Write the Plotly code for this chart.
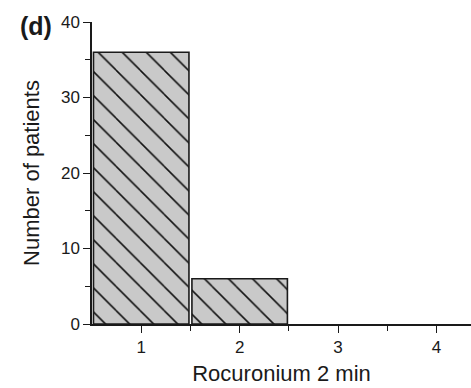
import plotly.graph_objects as go

categories = [1, 2, 3, 4]
counts = [36, 6, 0, 0]
x_ticks = [1, 2, 3, 4]
y_ticks = [0, 10, 20, 30, 40]

FONT = "Liberation Sans, Arial"
INK = "#1a1a1a"

fig = go.Figure()
fig.add_trace(go.Bar(
    x=categories, y=counts, width=0.97,
    marker=dict(color="#c9c9c9",
                line=dict(color=INK, width=[1.6 if c > 0 else 0 for c in counts]),
                pattern=dict(shape="\\", size=17, solidity=0.09, fgcolor="#111111", fgopacity=1, bgcolor="#c9c9c9")),
))

axis_common = dict(showline=True, linecolor=INK, linewidth=1.5, ticks="outside",
                   ticklen=7, tickwidth=1.3, tickcolor=INK, showgrid=False, zeroline=False,
                   tickfont=dict(family=FONT, size=17, color=INK))

fig.update_layout(
    width=471, height=388,
    margin=dict(l=92, r=0, t=22, b=64),
    plot_bgcolor="white", paper_bgcolor="white",
    showlegend=False,
    xaxis=dict(range=[0.5, 4.35], tickvals=x_ticks,
               minor=dict(tickvals=[1.5, 2.5, 3.5], ticklen=5, ticks="outside", tickcolor=INK, tickwidth=1.3),
               title=dict(text="Rocuronium 2 min", font=dict(family=FONT, size=22, color=INK), standoff=9),
               **axis_common),
    yaxis=dict(range=[0, 40], tickvals=y_ticks,
               minor=dict(tickvals=[5, 15, 25, 35], ticklen=5, ticks="outside", tickcolor=INK, tickwidth=1.3),
               title=dict(text="Number of patients", font=dict(family=FONT, size=22, color=INK), standoff=15),
               **axis_common),
    annotations=[dict(text="<b>(d)</b>", xref="paper", yref="paper", x=-0.149, y=0.987,
                      xanchor="center", yanchor="middle", showarrow=False,
                      font=dict(family=FONT, size=25, color=INK))],
)

fig.write_html("out.html")
